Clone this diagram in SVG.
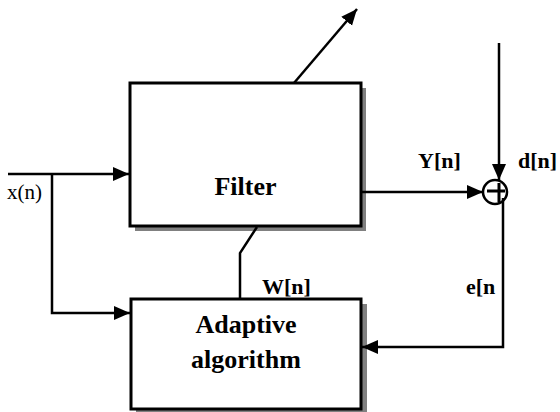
<svg xmlns="http://www.w3.org/2000/svg" width="560" height="412" viewBox="0 0 560 412">
<style>
.box{fill:#fff;stroke:#000;stroke-width:3}
.shadow{fill:#808080}
.ln{fill:none;stroke:#000;stroke-width:2.5}
text{font-family:'Liberation Serif','Times New Roman',serif;fill:#000}
.lbl{font-weight:bold;font-size:22px}
.big{font-weight:bold;font-size:26px;text-anchor:middle}
.reg{font-size:21px}
</style>
<defs>
<marker id="ah" markerUnits="userSpaceOnUse" markerWidth="17" markerHeight="15" refX="16" refY="7" orient="auto">
<path d="M0,0 L16,7 L0,14 z" fill="#000"/>
</marker>
</defs>
<rect width="560" height="412" fill="#fff"/>
<g id="filter">
<rect class="shadow" x="135" y="88" width="231" height="143"/>
<rect class="box" x="130" y="83" width="231" height="143"/>
<text class="big" x="245.5" y="195">Filter</text>
</g>
<g id="adaptive">
<rect class="shadow" x="136" y="304" width="231" height="112"/>
<rect class="box" x="131" y="299" width="230" height="110"/>
<text class="big" x="246" y="333">Adaptive</text>
<text class="big" x="246" y="368">algorithm</text>
</g>
<g id="sum">
<circle cx="495" cy="192" r="12" fill="#fff" stroke="#000" stroke-width="2.5"/>
<path d="M487 191 H505 M499 183 V202" stroke="#000" stroke-width="3" fill="none"/>
</g>
<g id="connectors">
<path class="ln" d="M8 174 H129" marker-end="url(#ah)"/>
<path class="ln" d="M52 174 V313 H130" marker-end="url(#ah)"/>
<path class="ln" d="M294 83 L357 9" marker-end="url(#ah)"/>
<path class="ln" d="M362 192 H483" marker-end="url(#ah)"/>
<path class="ln" d="M499 43 V180" marker-end="url(#ah)"/>
<path class="ln" d="M503 198 V347 H362" marker-end="url(#ah)"/>
<path class="ln" d="M257 227 L240 253 V299"/>
</g>
<g id="labels">
<text class="reg" x="7" y="199">x(n)</text>
<text class="lbl" x="418" y="168">Y[n]</text>
<text class="lbl" x="518" y="168">d[n]</text>
<text class="lbl" x="262" y="294">W[n]</text>
<text class="lbl" x="466" y="294">e[n</text>
</g>
</svg>
